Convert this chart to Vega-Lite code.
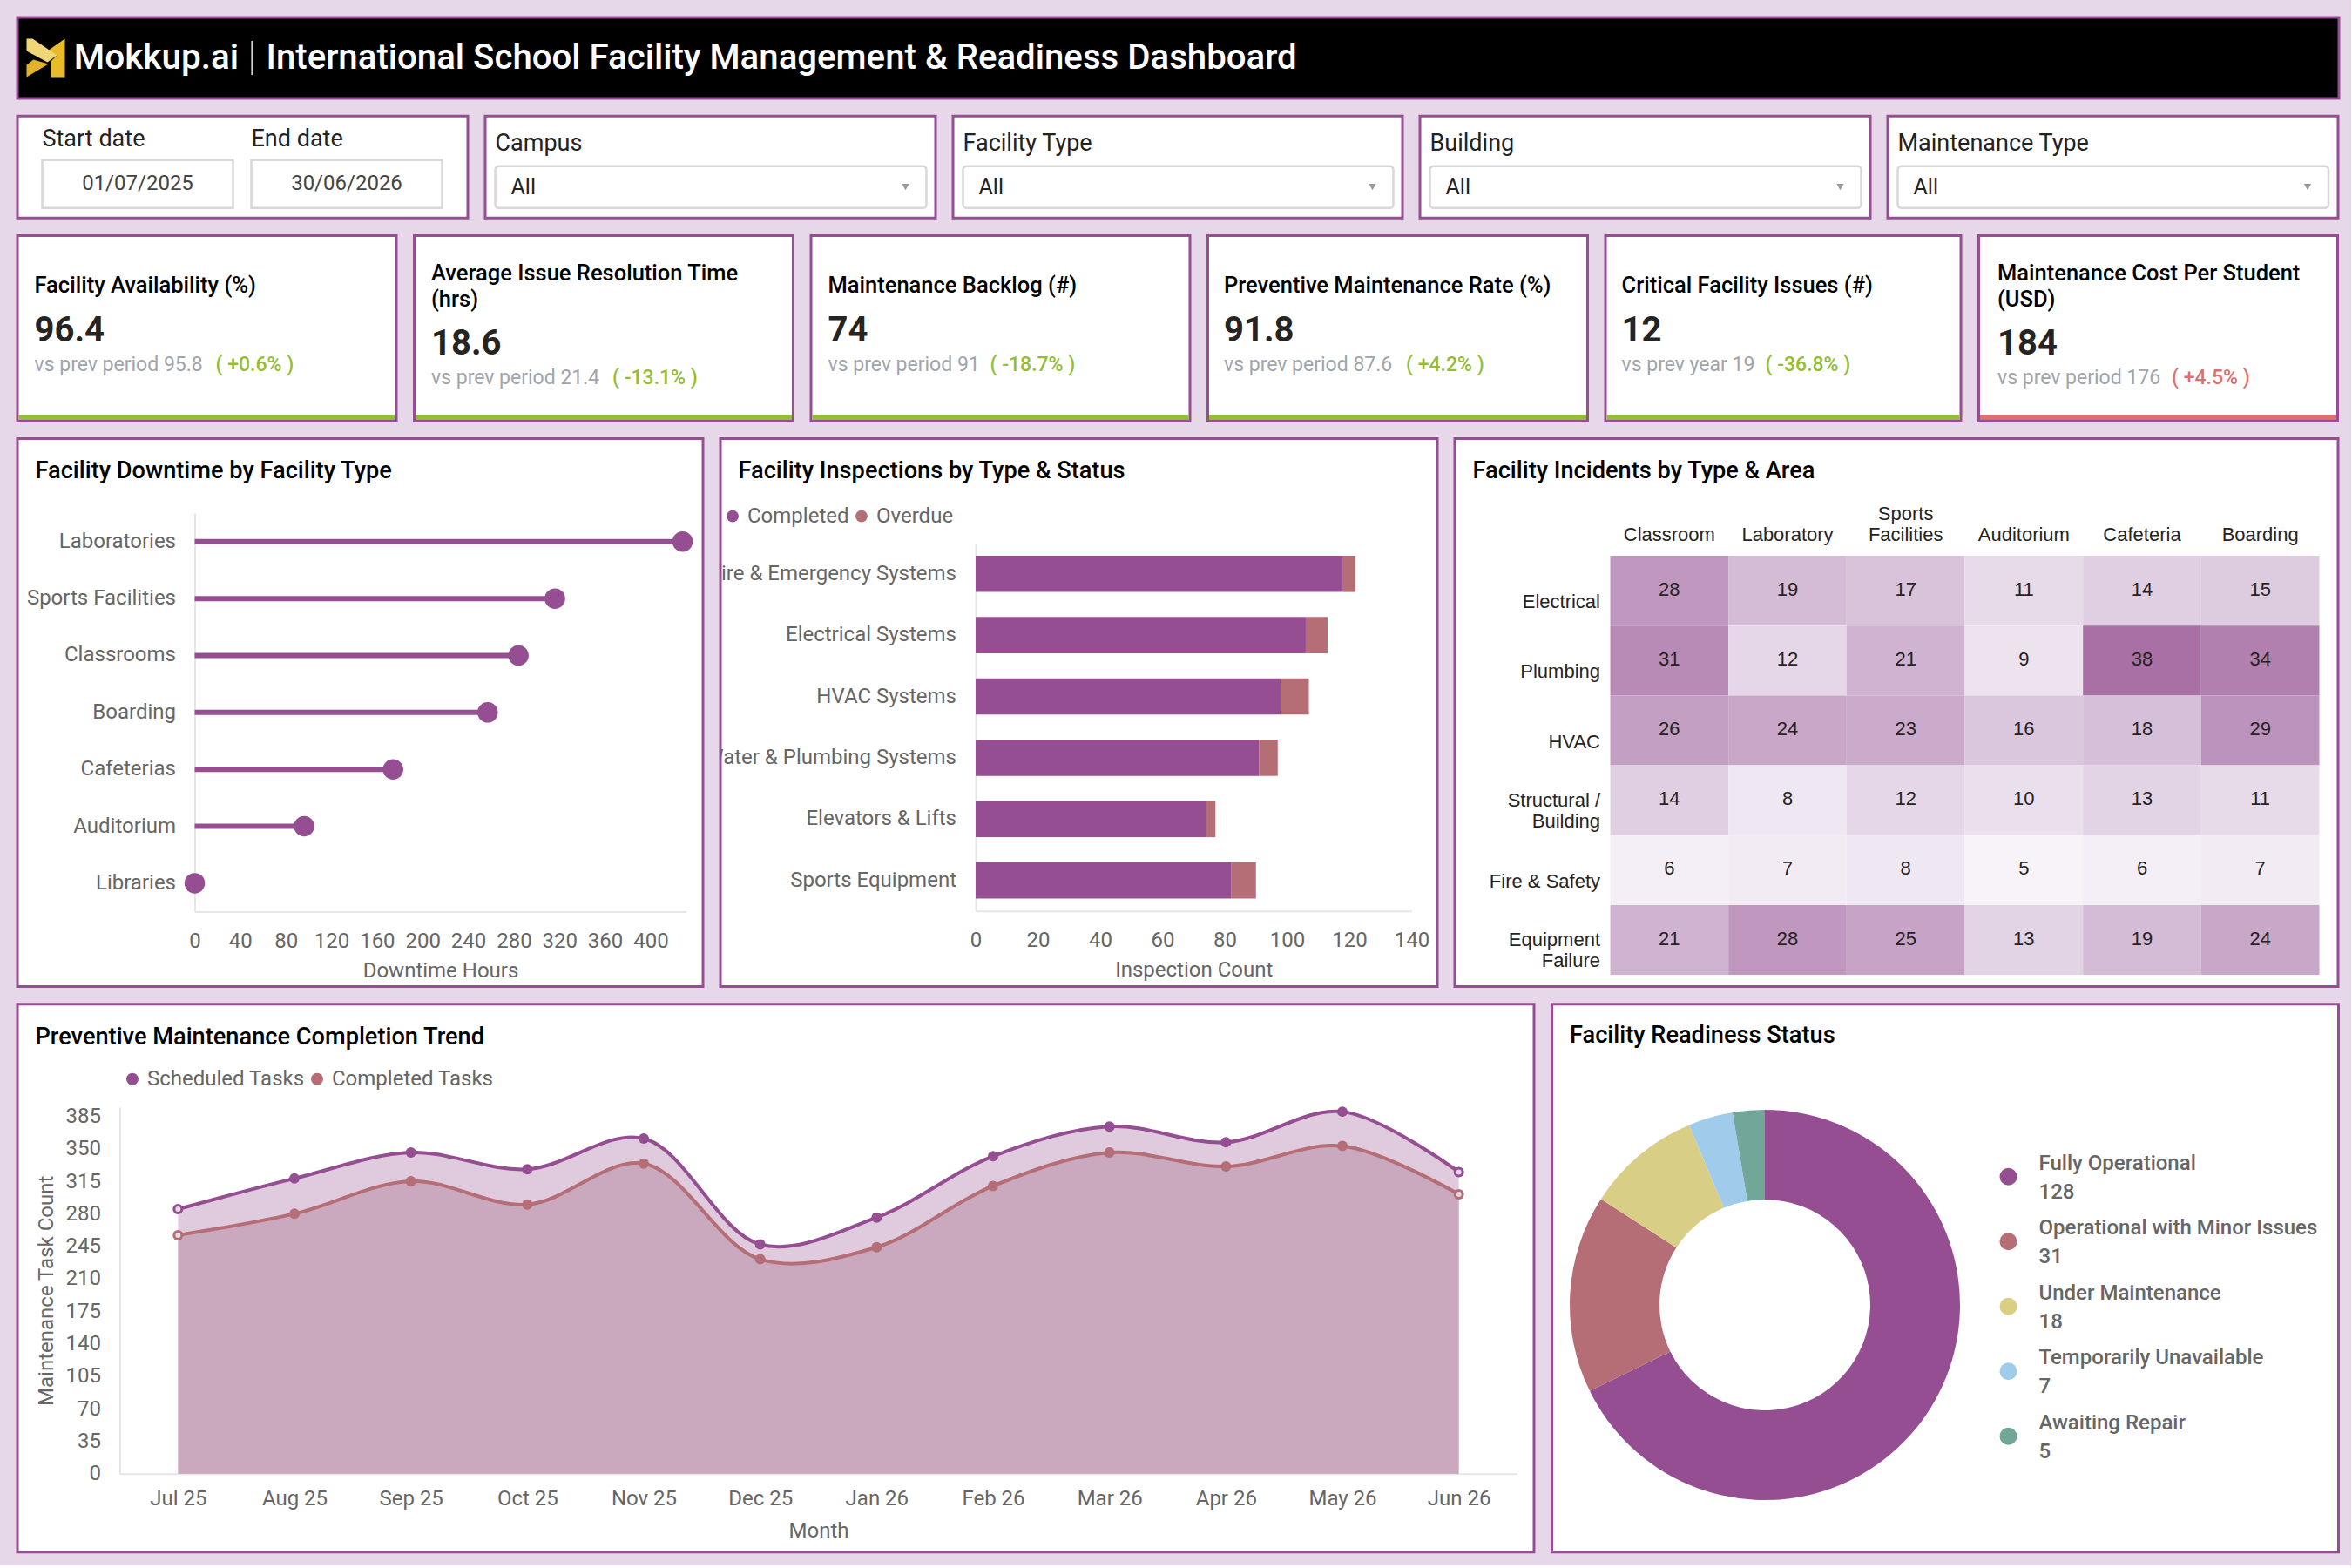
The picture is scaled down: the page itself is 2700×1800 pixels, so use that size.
{
"$schema":"https://vega.github.io/schema/vega-lite/v6.json",
"background":"#E6D8E8",
"padding":{"left":18,"top":18,"right":12,"bottom":13},
"spacing":16.2,
"resolve":{"scale":{"color":"independent","shape":"independent","stroke":"independent","fill":"independent"},"legend":{"color":"independent","stroke":"independent","fill":"independent"}},
"config":{
 "font":"Roboto",
 "concat":{"spacing":16.5},
 "view":{"stroke":"#944E91","strokeWidth":3,"fill":"#FFFFFF"},
 "title":{"font":"Roboto","fontSize":27.2,"fontWeight":500,"color":"#000000","anchor":"start","frame":"group","dx":20.5,"offset":-52},
 "axis":{"labelFont":"Roboto","labelFontSize":24,"labelColor":"#666666","titleFont":"Roboto","titleFontSize":24,"titleFontWeight":400,"titleColor":"#666666","grid":false,"ticks":false,"domainColor":"#E6E6E6","domainWidth":2,"labelAngle":0,"labelOverlap":false,"labelLimit":400,"labelPadding":22,"titlePadding":10,"labelFlush":false,"labelBound":false},
 "legend":{"labelFont":"Roboto","labelFontSize":24,"labelColor":"#666666","padding":0,"labelLimit":500}
},
"datasets":{
 "downtime":[{"type":"Laboratories","hours":428},{"type":"Sports Facilities","hours":316},{"type":"Classrooms","hours":284},{"type":"Boarding","hours":257},{"type":"Cafeterias","hours":174},{"type":"Auditorium","hours":96},{"type":"Libraries","hours":0}],
 "inspections":[
  {"system":"Fire & Emergency Systems","status":"Completed","count":118,"seq":1},{"system":"Fire & Emergency Systems","status":"Overdue","count":4,"seq":2},
  {"system":"Electrical Systems","status":"Completed","count":106,"seq":1},{"system":"Electrical Systems","status":"Overdue","count":7,"seq":2},
  {"system":"HVAC Systems","status":"Completed","count":98,"seq":1},{"system":"HVAC Systems","status":"Overdue","count":9,"seq":2},
  {"system":"Water & Plumbing Systems","status":"Completed","count":91,"seq":1},{"system":"Water & Plumbing Systems","status":"Overdue","count":6,"seq":2},
  {"system":"Elevators & Lifts","status":"Completed","count":74,"seq":1},{"system":"Elevators & Lifts","status":"Overdue","count":3,"seq":2},
  {"system":"Sports Equipment","status":"Completed","count":82,"seq":1},{"system":"Sports Equipment","status":"Overdue","count":8,"seq":2}],
 "incidents":[
  {"incident":"Electrical","area":"Classroom","n":28},{"incident":"Electrical","area":"Laboratory","n":19},{"incident":"Electrical","area":"Sports Facilities","n":17},{"incident":"Electrical","area":"Auditorium","n":11},{"incident":"Electrical","area":"Cafeteria","n":14},{"incident":"Electrical","area":"Boarding","n":15},
  {"incident":"Plumbing","area":"Classroom","n":31},{"incident":"Plumbing","area":"Laboratory","n":12},{"incident":"Plumbing","area":"Sports Facilities","n":21},{"incident":"Plumbing","area":"Auditorium","n":9},{"incident":"Plumbing","area":"Cafeteria","n":38},{"incident":"Plumbing","area":"Boarding","n":34},
  {"incident":"HVAC","area":"Classroom","n":26},{"incident":"HVAC","area":"Laboratory","n":24},{"incident":"HVAC","area":"Sports Facilities","n":23},{"incident":"HVAC","area":"Auditorium","n":16},{"incident":"HVAC","area":"Cafeteria","n":18},{"incident":"HVAC","area":"Boarding","n":29},
  {"incident":"Structural / Building","area":"Classroom","n":14},{"incident":"Structural / Building","area":"Laboratory","n":8},{"incident":"Structural / Building","area":"Sports Facilities","n":12},{"incident":"Structural / Building","area":"Auditorium","n":10},{"incident":"Structural / Building","area":"Cafeteria","n":13},{"incident":"Structural / Building","area":"Boarding","n":11},
  {"incident":"Fire & Safety","area":"Classroom","n":6},{"incident":"Fire & Safety","area":"Laboratory","n":7},{"incident":"Fire & Safety","area":"Sports Facilities","n":8},{"incident":"Fire & Safety","area":"Auditorium","n":5},{"incident":"Fire & Safety","area":"Cafeteria","n":6},{"incident":"Fire & Safety","area":"Boarding","n":7},
  {"incident":"Equipment Failure","area":"Classroom","n":21},{"incident":"Equipment Failure","area":"Laboratory","n":28},{"incident":"Equipment Failure","area":"Sports Facilities","n":25},{"incident":"Equipment Failure","area":"Auditorium","n":13},{"incident":"Equipment Failure","area":"Cafeteria","n":19},{"incident":"Equipment Failure","area":"Boarding","n":24}],
 "trend":[
  {"month":"Jul 25","series":"Scheduled Tasks","tasks":285},{"month":"Aug 25","series":"Scheduled Tasks","tasks":318},{"month":"Sep 25","series":"Scheduled Tasks","tasks":346},{"month":"Oct 25","series":"Scheduled Tasks","tasks":328},{"month":"Nov 25","series":"Scheduled Tasks","tasks":361},{"month":"Dec 25","series":"Scheduled Tasks","tasks":247},{"month":"Jan 26","series":"Scheduled Tasks","tasks":276},{"month":"Feb 26","series":"Scheduled Tasks","tasks":342},{"month":"Mar 26","series":"Scheduled Tasks","tasks":374},{"month":"Apr 26","series":"Scheduled Tasks","tasks":357},{"month":"May 26","series":"Scheduled Tasks","tasks":390},{"month":"Jun 26","series":"Scheduled Tasks","tasks":325},
  {"month":"Jul 25","series":"Completed Tasks","tasks":257},{"month":"Aug 25","series":"Completed Tasks","tasks":280},{"month":"Sep 25","series":"Completed Tasks","tasks":315},{"month":"Oct 25","series":"Completed Tasks","tasks":290},{"month":"Nov 25","series":"Completed Tasks","tasks":334},{"month":"Dec 25","series":"Completed Tasks","tasks":231},{"month":"Jan 26","series":"Completed Tasks","tasks":244},{"month":"Feb 26","series":"Completed Tasks","tasks":310},{"month":"Mar 26","series":"Completed Tasks","tasks":346},{"month":"Apr 26","series":"Completed Tasks","tasks":331},{"month":"May 26","series":"Completed Tasks","tasks":353},{"month":"Jun 26","series":"Completed Tasks","tasks":301}],
 "readiness":[
  {"status":"Fully Operational","count":128,"key":"Fully Operational|128","rank":1},
  {"status":"Operational with Minor Issues","count":31,"key":"Operational with Minor Issues|31","rank":2},
  {"status":"Under Maintenance","count":18,"key":"Under Maintenance|18","rank":3},
  {"status":"Temporarily Unavailable","count":7,"key":"Temporarily Unavailable|7","rank":4},
  {"status":"Awaiting Repair","count":5,"key":"Awaiting Repair|5","rank":5}]
},
"vconcat":[
 {"width":2665,"height":93,"view":{"fill":"#000000"},
  "data":{"values":[{"slot":"logo","piece":"right"},{"slot":"logo","piece":"lower"},{"slot":"logo","piece":"band"},{"slot":"brand","label":"Mokkup.ai"},{"slot":"divider"},{"slot":"title","label":"International School Facility Management & Readiness Dashboard"}]},
  "encoding":{"x":{"field":"slot","type":"nominal","scale":{"type":"point","padding":0,"domain":["logo","brand","divider","title"],"range":[32.5,285.5]},"axis":null}},
  "layer":[
   {"transform":[{"filter":"datum.slot=='logo'"}],"mark":{"type":"point","filled":true,"opacity":1,"size":1936},
    "encoding":{"shape":{"field":"piece","type":"nominal","legend":null,"scale":{"domain":["right","lower","band"],"range":["M1,-1L1,1L0.27,1L0.27,0.18L0.59,-0.14L0.09,-0.36Z","M-1,1L-1,0.36L-0.64,0.09L0.14,0.32Z","M-1,-1L-0.68,-1L0.59,-0.14L0.09,0.23L-1,-0.36Z"]}},
     "color":{"field":"piece","type":"nominal","legend":null,"scale":{"domain":["right","lower","band"],"range":["#E9BB2B","#E3B22A","#EFD777"]}}}},
   {"transform":[{"filter":"datum.slot=='brand'"}],"mark":{"type":"text","align":"left","dx":-52,"fontSize":40.5,"fontWeight":500,"color":"#FFFFFF"},"encoding":{"text":{"field":"label"}}},
   {"transform":[{"filter":"datum.slot=='divider'"}],"mark":{"type":"tick","orient":"vertical","size":39,"thickness":1.5,"opacity":1,"color":"#E6E6E6","xOffset":68}},
   {"transform":[{"filter":"datum.slot=='title'"}],"mark":{"type":"text","align":"left","fontSize":40.2,"fontWeight":500,"color":"#FFFFFF"},"encoding":{"text":{"field":"label"}}}
  ]},
 {"spacing":16,"resolve":{"scale":{"color":"independent"}},"hconcat":[
  {"width":517,"height":117,
   "data":{"values":[{"control":"Start date","row":"label","label":"Start date"},{"control":"End date","row":"label","label":"End date"},{"control":"Start date","row":"input","label":"01/07/2025"},{"control":"End date","row":"input","label":"30/06/2026"}]},
   "encoding":{"x":{"field":"control","type":"nominal","scale":{"type":"band","domain":["Start date","End date"],"range":[28.5,487.5],"paddingInner":0.0875,"paddingOuter":0},"axis":null},
    "y":{"field":"row","type":"nominal","scale":{"type":"band","domain":["label","input"],"range":[-4.5,105.5],"padding":0},"axis":null}},
   "layer":[
    {"transform":[{"filter":"datum.row=='input'"}],"mark":{"type":"rect","fill":"#FFFFFF","stroke":"#D8D8D8","strokeWidth":2.5}},
    {"transform":[{"filter":"datum.row=='input'"}],"mark":{"type":"text","fontSize":24,"color":"#444444"},"encoding":{"text":{"field":"label"}}},
    {"transform":[{"filter":"datum.row=='label'"}],"mark":{"type":"text","align":"left","dy":3.5,"fontSize":27,"color":"#222222"},"encoding":{"x":{"field":"control","type":"nominal","bandPosition":0},"text":{"field":"label"}}}
   ]},
  {"width":517,"height":117,
   "data":{"values":[{"slot":"control","row":"label","label":"Campus"},{"slot":"control","row":"input","label":"All"}]},
   "encoding":{"x":{"field":"slot","type":"nominal","bandPosition":0,"scale":{"type":"band","domain":["control"],"range":[11.5,506.5],"padding":0},"axis":null},
    "y":{"field":"row","type":"nominal","scale":{"type":"band","domain":["label","input"],"range":[7.5,105.5],"paddingInner":0.04,"paddingOuter":0},"axis":null}},
   "layer":[
    {"transform":[{"filter":"datum.row=='input'"}],"mark":{"type":"rect","fill":"#FFFFFF","stroke":"#D8D8D8","strokeWidth":2.5,"cornerRadius":4},"encoding":{"x":{"field":"slot","type":"nominal"}}},
    {"transform":[{"filter":"datum.row=='input'"}],"mark":{"type":"point","shape":"triangle-down","filled":true,"size":70,"color":"#999999","opacity":1,"xOffset":-24},"encoding":{"x":{"field":"slot","type":"nominal","bandPosition":1}}},
    {"transform":[{"filter":"datum.row=='input'"}],"mark":{"type":"text","align":"left","dx":18,"fontSize":25,"color":"#222222"},"encoding":{"text":{"field":"label"}}},
    {"transform":[{"filter":"datum.row=='label'"}],"mark":{"type":"text","align":"left","fontSize":27,"color":"#222222"},"encoding":{"text":{"field":"label"}}}
   ]},
  {"width":516,"height":117,
   "data":{"values":[{"slot":"control","row":"label","label":"Facility Type"},{"slot":"control","row":"input","label":"All"}]},
   "encoding":{"x":{"field":"slot","type":"nominal","bandPosition":0,"scale":{"type":"band","domain":["control"],"range":[11.5,505.5],"padding":0},"axis":null},
    "y":{"field":"row","type":"nominal","scale":{"type":"band","domain":["label","input"],"range":[7.5,105.5],"paddingInner":0.04,"paddingOuter":0},"axis":null}},
   "layer":[
    {"transform":[{"filter":"datum.row=='input'"}],"mark":{"type":"rect","fill":"#FFFFFF","stroke":"#D8D8D8","strokeWidth":2.5,"cornerRadius":4},"encoding":{"x":{"field":"slot","type":"nominal"}}},
    {"transform":[{"filter":"datum.row=='input'"}],"mark":{"type":"point","shape":"triangle-down","filled":true,"size":70,"color":"#999999","opacity":1,"xOffset":-24},"encoding":{"x":{"field":"slot","type":"nominal","bandPosition":1}}},
    {"transform":[{"filter":"datum.row=='input'"}],"mark":{"type":"text","align":"left","dx":18,"fontSize":25,"color":"#222222"},"encoding":{"text":{"field":"label"}}},
    {"transform":[{"filter":"datum.row=='label'"}],"mark":{"type":"text","align":"left","fontSize":27,"color":"#222222"},"encoding":{"text":{"field":"label"}}}
   ]},
  {"width":517,"height":117,
   "data":{"values":[{"slot":"control","row":"label","label":"Building"},{"slot":"control","row":"input","label":"All"}]},
   "encoding":{"x":{"field":"slot","type":"nominal","bandPosition":0,"scale":{"type":"band","domain":["control"],"range":[11.5,506.5],"padding":0},"axis":null},
    "y":{"field":"row","type":"nominal","scale":{"type":"band","domain":["label","input"],"range":[7.5,105.5],"paddingInner":0.04,"paddingOuter":0},"axis":null}},
   "layer":[
    {"transform":[{"filter":"datum.row=='input'"}],"mark":{"type":"rect","fill":"#FFFFFF","stroke":"#D8D8D8","strokeWidth":2.5,"cornerRadius":4},"encoding":{"x":{"field":"slot","type":"nominal"}}},
    {"transform":[{"filter":"datum.row=='input'"}],"mark":{"type":"point","shape":"triangle-down","filled":true,"size":70,"color":"#999999","opacity":1,"xOffset":-24},"encoding":{"x":{"field":"slot","type":"nominal","bandPosition":1}}},
    {"transform":[{"filter":"datum.row=='input'"}],"mark":{"type":"text","align":"left","dx":18,"fontSize":25,"color":"#222222"},"encoding":{"text":{"field":"label"}}},
    {"transform":[{"filter":"datum.row=='label'"}],"mark":{"type":"text","align":"left","fontSize":27,"color":"#222222"},"encoding":{"text":{"field":"label"}}}
   ]},
  {"width":517,"height":117,
   "data":{"values":[{"slot":"control","row":"label","label":"Maintenance Type"},{"slot":"control","row":"input","label":"All"}]},
   "encoding":{"x":{"field":"slot","type":"nominal","bandPosition":0,"scale":{"type":"band","domain":["control"],"range":[11.5,506],"padding":0},"axis":null},
    "y":{"field":"row","type":"nominal","scale":{"type":"band","domain":["label","input"],"range":[7.5,105.5],"paddingInner":0.04,"paddingOuter":0},"axis":null}},
   "layer":[
    {"transform":[{"filter":"datum.row=='input'"}],"mark":{"type":"rect","fill":"#FFFFFF","stroke":"#D8D8D8","strokeWidth":2.5,"cornerRadius":4},"encoding":{"x":{"field":"slot","type":"nominal"}}},
    {"transform":[{"filter":"datum.row=='input'"}],"mark":{"type":"point","shape":"triangle-down","filled":true,"size":70,"color":"#999999","opacity":1,"xOffset":-24},"encoding":{"x":{"field":"slot","type":"nominal","bandPosition":1}}},
    {"transform":[{"filter":"datum.row=='input'"}],"mark":{"type":"text","align":"left","dx":18,"fontSize":25,"color":"#222222"},"encoding":{"text":{"field":"label"}}},
    {"transform":[{"filter":"datum.row=='label'"}],"mark":{"type":"text","align":"left","fontSize":27,"color":"#222222"},"encoding":{"text":{"field":"label"}}}
   ]}
 ]},
 {"hconcat":[
  {"width":435,"height":213,
   "data":{"values":[{"line":"strip","part":"main"},{"line":"title","part":"main","label":"Facility Availability (%)"},{"line":"value","part":"main","label":"96.4"},{"line":"delta","part":"main","label":"vs prev period 95.8"},{"line":"delta","part":"change","label":"( +0.6% )"}]},
   "encoding":{"x":{"field":"part","type":"nominal","scale":{"type":"point","padding":0,"domain":["main","change"],"range":[19.5,227.5]},"axis":null},"y":{"field":"line","type":"nominal","scale":{"type":"point","padding":0,"domain":["title","value","delta","strip"],"range":[57.5,208.5]},"axis":null}},
   "layer":[
    {"transform":[{"filter":"datum.line=='strip'"}],"mark":{"type":"tick","orient":"horizontal","size":432,"thickness":6,"opacity":1,"color":"#92BD35"},"encoding":{"x":null}},
    {"transform":[{"filter":"datum.line=='title'"}],"mark":{"type":"text","align":"left","fontSize":25.5,"fontWeight":500,"lineHeight":30,"lineBreak":"\n","color":"#000000"},"encoding":{"text":{"field":"label"}}},
    {"transform":[{"filter":"datum.line=='value'"}],"mark":{"type":"text","align":"left","dy":1.6,"fontSize":40,"fontWeight":700,"color":"#252423"},"encoding":{"text":{"field":"label"}}},
    {"transform":[{"filter":"datum.line=='delta'&&datum.part=='main'"}],"mark":{"type":"text","align":"left","dy":-9.3,"fontSize":23,"color":"#A0A4AC"},"encoding":{"text":{"field":"label"}}},
    {"transform":[{"filter":"datum.line=='delta'&&datum.part=='change'"}],"mark":{"type":"text","align":"left","dy":-9.3,"fontSize":23,"fontWeight":500,"color":"#92BD35"},"encoding":{"text":{"field":"label"}}}
   ]},
  {"width":435,"height":213,
   "data":{"values":[{"line":"strip","part":"main"},{"line":"title","part":"main","label":"Average Issue Resolution Time\n(hrs)"},{"line":"value","part":"main","label":"18.6"},{"line":"delta","part":"main","label":"vs prev period 21.4"},{"line":"delta","part":"change","label":"( -13.1% )"}]},
   "encoding":{"x":{"field":"part","type":"nominal","scale":{"type":"point","padding":0,"domain":["main","change"],"range":[19.5,227.5]},"axis":null},"y":{"field":"line","type":"nominal","scale":{"type":"point","padding":0,"domain":["title","value","delta","strip"],"range":[57.5,208.5]},"axis":null}},
   "layer":[
    {"transform":[{"filter":"datum.line=='strip'"}],"mark":{"type":"tick","orient":"horizontal","size":432,"thickness":6,"opacity":1,"color":"#92BD35"},"encoding":{"x":null}},
    {"transform":[{"filter":"datum.line=='title'"}],"mark":{"type":"text","align":"left","dy":-14,"fontSize":25.5,"fontWeight":500,"lineHeight":30,"lineBreak":"\n","color":"#000000"},"encoding":{"text":{"field":"label"}}},
    {"transform":[{"filter":"datum.line=='value'"}],"mark":{"type":"text","align":"left","dy":16.3,"fontSize":40,"fontWeight":700,"color":"#252423"},"encoding":{"text":{"field":"label"}}},
    {"transform":[{"filter":"datum.line=='delta'&&datum.part=='main'"}],"mark":{"type":"text","align":"left","dy":5.4,"fontSize":23,"color":"#A0A4AC"},"encoding":{"text":{"field":"label"}}},
    {"transform":[{"filter":"datum.line=='delta'&&datum.part=='change'"}],"mark":{"type":"text","align":"left","dy":5.4,"fontSize":23,"fontWeight":500,"color":"#92BD35"},"encoding":{"text":{"field":"label"}}}
   ]},
  {"width":435,"height":213,
   "data":{"values":[{"line":"strip","part":"main"},{"line":"title","part":"main","label":"Maintenance Backlog (#)"},{"line":"value","part":"main","label":"74"},{"line":"delta","part":"main","label":"vs prev period 91"},{"line":"delta","part":"change","label":"( -18.7% )"}]},
   "encoding":{"x":{"field":"part","type":"nominal","scale":{"type":"point","padding":0,"domain":["main","change"],"range":[19.5,205.5]},"axis":null},"y":{"field":"line","type":"nominal","scale":{"type":"point","padding":0,"domain":["title","value","delta","strip"],"range":[57.5,208.5]},"axis":null}},
   "layer":[
    {"transform":[{"filter":"datum.line=='strip'"}],"mark":{"type":"tick","orient":"horizontal","size":432,"thickness":6,"opacity":1,"color":"#92BD35"},"encoding":{"x":null}},
    {"transform":[{"filter":"datum.line=='title'"}],"mark":{"type":"text","align":"left","fontSize":25.5,"fontWeight":500,"lineHeight":30,"lineBreak":"\n","color":"#000000"},"encoding":{"text":{"field":"label"}}},
    {"transform":[{"filter":"datum.line=='value'"}],"mark":{"type":"text","align":"left","dy":1.6,"fontSize":40,"fontWeight":700,"color":"#252423"},"encoding":{"text":{"field":"label"}}},
    {"transform":[{"filter":"datum.line=='delta'&&datum.part=='main'"}],"mark":{"type":"text","align":"left","dy":-9.3,"fontSize":23,"color":"#A0A4AC"},"encoding":{"text":{"field":"label"}}},
    {"transform":[{"filter":"datum.line=='delta'&&datum.part=='change'"}],"mark":{"type":"text","align":"left","dy":-9.3,"fontSize":23,"fontWeight":500,"color":"#92BD35"},"encoding":{"text":{"field":"label"}}}
   ]},
  {"width":436,"height":213,
   "data":{"values":[{"line":"strip","part":"main"},{"line":"title","part":"main","label":"Preventive Maintenance Rate (%)"},{"line":"value","part":"main","label":"91.8"},{"line":"delta","part":"main","label":"vs prev period 87.6"},{"line":"delta","part":"change","label":"( +4.2% )"}]},
   "encoding":{"x":{"field":"part","type":"nominal","scale":{"type":"point","padding":0,"domain":["main","change"],"range":[18.5,227.5]},"axis":null},"y":{"field":"line","type":"nominal","scale":{"type":"point","padding":0,"domain":["title","value","delta","strip"],"range":[57.5,208.5]},"axis":null}},
   "layer":[
    {"transform":[{"filter":"datum.line=='strip'"}],"mark":{"type":"tick","orient":"horizontal","size":433,"thickness":6,"opacity":1,"color":"#92BD35"},"encoding":{"x":null}},
    {"transform":[{"filter":"datum.line=='title'"}],"mark":{"type":"text","align":"left","fontSize":25.5,"fontWeight":500,"lineHeight":30,"lineBreak":"\n","color":"#000000"},"encoding":{"text":{"field":"label"}}},
    {"transform":[{"filter":"datum.line=='value'"}],"mark":{"type":"text","align":"left","dy":1.6,"fontSize":40,"fontWeight":700,"color":"#252423"},"encoding":{"text":{"field":"label"}}},
    {"transform":[{"filter":"datum.line=='delta'&&datum.part=='main'"}],"mark":{"type":"text","align":"left","dy":-9.3,"fontSize":23,"color":"#A0A4AC"},"encoding":{"text":{"field":"label"}}},
    {"transform":[{"filter":"datum.line=='delta'&&datum.part=='change'"}],"mark":{"type":"text","align":"left","dy":-9.3,"fontSize":23,"fontWeight":500,"color":"#92BD35"},"encoding":{"text":{"field":"label"}}}
   ]},
  {"width":408,"height":213,
   "data":{"values":[{"line":"strip","part":"main"},{"line":"title","part":"main","label":"Critical Facility Issues (#)"},{"line":"value","part":"main","label":"12"},{"line":"delta","part":"main","label":"vs prev year 19"},{"line":"delta","part":"change","label":"( -36.8% )"}]},
   "encoding":{"x":{"field":"part","type":"nominal","scale":{"type":"point","padding":0,"domain":["main","change"],"range":[18.5,183.5]},"axis":null},"y":{"field":"line","type":"nominal","scale":{"type":"point","padding":0,"domain":["title","value","delta","strip"],"range":[57.5,208.5]},"axis":null}},
   "layer":[
    {"transform":[{"filter":"datum.line=='strip'"}],"mark":{"type":"tick","orient":"horizontal","size":405,"thickness":6,"opacity":1,"color":"#92BD35"},"encoding":{"x":null}},
    {"transform":[{"filter":"datum.line=='title'"}],"mark":{"type":"text","align":"left","fontSize":25.5,"fontWeight":500,"lineHeight":30,"lineBreak":"\n","color":"#000000"},"encoding":{"text":{"field":"label"}}},
    {"transform":[{"filter":"datum.line=='value'"}],"mark":{"type":"text","align":"left","dy":1.6,"fontSize":40,"fontWeight":700,"color":"#252423"},"encoding":{"text":{"field":"label"}}},
    {"transform":[{"filter":"datum.line=='delta'&&datum.part=='main'"}],"mark":{"type":"text","align":"left","dy":-9.3,"fontSize":23,"color":"#A0A4AC"},"encoding":{"text":{"field":"label"}}},
    {"transform":[{"filter":"datum.line=='delta'&&datum.part=='change'"}],"mark":{"type":"text","align":"left","dy":-9.3,"fontSize":23,"fontWeight":500,"color":"#92BD35"},"encoding":{"text":{"field":"label"}}}
   ]},
  {"width":412,"height":213,
   "data":{"values":[{"line":"strip","part":"main"},{"line":"title","part":"main","label":"Maintenance Cost Per Student\n(USD)"},{"line":"value","part":"main","label":"184"},{"line":"delta","part":"main","label":"vs prev period 176"},{"line":"delta","part":"change","label":"( +4.5% )"}]},
   "encoding":{"x":{"field":"part","type":"nominal","scale":{"type":"point","padding":0,"domain":["main","change"],"range":[21.5,221.5]},"axis":null},"y":{"field":"line","type":"nominal","scale":{"type":"point","padding":0,"domain":["title","value","delta","strip"],"range":[57.5,208.5]},"axis":null}},
   "layer":[
    {"transform":[{"filter":"datum.line=='strip'"}],"mark":{"type":"tick","orient":"horizontal","size":409,"thickness":6,"opacity":1,"color":"#DE6F6F"},"encoding":{"x":null}},
    {"transform":[{"filter":"datum.line=='title'"}],"mark":{"type":"text","align":"left","dy":-14,"fontSize":25.5,"fontWeight":500,"lineHeight":30,"lineBreak":"\n","color":"#000000"},"encoding":{"text":{"field":"label"}}},
    {"transform":[{"filter":"datum.line=='value'"}],"mark":{"type":"text","align":"left","dy":16.3,"fontSize":40,"fontWeight":700,"color":"#252423"},"encoding":{"text":{"field":"label"}}},
    {"transform":[{"filter":"datum.line=='delta'&&datum.part=='main'"}],"mark":{"type":"text","align":"left","dy":5.4,"fontSize":23,"color":"#A0A4AC"},"encoding":{"text":{"field":"label"}}},
    {"transform":[{"filter":"datum.line=='delta'&&datum.part=='change'"}],"mark":{"type":"text","align":"left","dy":5.4,"fontSize":23,"fontWeight":500,"color":"#DE6F6F"},"encoding":{"text":{"field":"label"}}}
   ]}
 ]},
 {"spacing":16,"resolve":{"scale":{"color":"independent"},"legend":{"color":"independent"}},"hconcat":[
  {"width":787,"height":629,"title":"Facility Downtime by Facility Type",
   "data":{"name":"downtime"},
   "encoding":{
    "y":{"field":"type","type":"nominal","sort":null,"title":null,"scale":{"type":"band","domain":["Laboratories","Sports Facilities","Classrooms","Boarding","Cafeterias","Auditorium","Libraries"],"range":[85.5,543],"padding":0},"axis":{"offset":-203.5}},
    "x":{"field":"hours","type":"quantitative","title":"Downtime Hours","scale":{"domain":[0,431],"range":[203.5,767.5],"nice":false},"axis":{"offset":-86,"values":[0,40,80,120,160,200,240,280,320,360,400]}}},
   "layer":[
    {"mark":{"type":"bar","size":6,"color":"#944E91"}},
    {"mark":{"type":"point","filled":true,"opacity":1,"size":552,"color":"#944E91"}}
   ]},
  {"width":823,"height":629,"title":"Facility Inspections by Type & Status",
   "data":{"name":"inspections"},
   "encoding":{
    "y":{"field":"system","type":"nominal","sort":null,"title":null,"scale":{"type":"band","domain":["Fire & Emergency Systems","Electrical Systems","HVAC Systems","Water & Plumbing Systems","Elevators & Lifts","Sports Equipment"],"range":[120,542.2],"paddingInner":0.408,"paddingOuter":0.204},"axis":{"offset":-293,"labels":false}}},
   "layer":[
    {"mark":{"type":"bar"},
     "encoding":{"x":{"field":"count","type":"quantitative","stack":"zero","title":"Inspection Count","scale":{"domain":[0,140],"range":[293,793.5],"nice":false},"axis":{"offset":-86.8,"values":[0,20,40,60,80,100,120,140]}},
      "order":{"field":"seq"},
      "color":{"field":"status","type":"nominal","title":null,"scale":{"domain":["Completed","Overdue"],"range":["#944E91","#B56D76"]},"legend":{"orient":"none","legendX":2,"legendY":77,"direction":"horizontal","symbolType":"circle","symbolSize":190,"labelOffset":5,"columnPadding":2}}}},
    {"transform":[{"filter":"datum.status=='Completed'"}],"mark":{"type":"text","align":"right","dx":-22,"fontSize":24,"color":"#666666","clip":true},
     "encoding":{"x":{"datum":0},"text":{"field":"system"}}}
   ]},
  {"width":1014,"height":629,"title":"Facility Incidents by Type & Area",
   "data":{"name":"incidents"},
   "encoding":{
    "x":{"field":"area","type":"nominal","sort":null,"title":null,"scale":{"type":"band","domain":["Classroom","Laboratory","Sports Facilities","Auditorium","Cafeteria","Boarding"],"range":[178.5,992.5],"padding":0},
     "axis":{"orient":"top","offset":-134.5,"domain":false,"labelFont":"Liberation Sans","labelFontSize":22,"labelColor":"#252423","labelPadding":37,"labelLineHeight":24,"labelExpr":"datum.label=='Sports Facilities'?['Sports','Facilities']:['',datum.label]"}},
    "y":{"field":"incident","type":"nominal","sort":null,"title":null,"scale":{"type":"band","domain":["Electrical","Plumbing","HVAC","Structural / Building","Fire & Safety","Equipment Failure"],"range":[134.5,615.5],"padding":0},
     "axis":{"offset":-178.5,"domain":false,"labelFont":"Liberation Sans","labelFontSize":22,"labelColor":"#252423","labelPadding":12,"labelOffset":{"condition":{"test":"datum.label=='Structural / Building'||datum.label=='Equipment Failure'","value":0},"value":13},"labelLineHeight":24,"labelExpr":"datum.label=='Structural / Building'?['Structural /','Building']:datum.label=='Equipment Failure'?['Equipment','Failure']:datum.label"}}},
   "layer":[
    {"mark":{"type":"rect"},"encoding":{"color":{"field":"n","type":"quantitative","legend":null,"scale":{"domain":[5,38],"range":["#F7F3F8","#A870A4"]}}}},
    {"mark":{"type":"text","font":"Liberation Sans","fontSize":22,"dy":-1.5,"color":"#252423"},"encoding":{"text":{"field":"n","type":"quantitative"}}}
   ]}
 ]},
 {"resolve":{"scale":{"color":"independent","stroke":"independent","fill":"independent"},"legend":{"color":"independent","stroke":"independent","fill":"independent"}},"hconcat":[
  {"width":1741,"height":629,"title":"Preventive Maintenance Completion Trend",
   "data":{"name":"trend"},
   "encoding":{
    "x":{"field":"month","type":"nominal","sort":null,"title":"Month","scale":{"type":"point","padding":0.5,"domain":["Jul 25","Aug 25","Sep 25","Oct 25","Nov 25","Dec 25","Jan 26","Feb 26","Mar 26","Apr 26","May 26","Jun 26"],"range":[117.5,1721.5]},"axis":{"offset":-90,"labelPadding":17,"titlePadding":13}},
    "y":{"field":"tasks","type":"quantitative","stack":null,"title":"Maintenance Task Count","scale":{"domain":[0,395],"range":[539,118],"nice":false},"axis":{"offset":-117.5,"values":[0,35,70,105,140,175,210,245,280,315,350,385]}}},
   "layer":[
    {"transform":[{"filter":"datum.series=='Scheduled Tasks'"}],"mark":{"type":"area","interpolate":"catmull-rom","opacity":0.3,"color":"#944E91"}},
    {"transform":[{"filter":"datum.series=='Completed Tasks'"}],"mark":{"type":"area","interpolate":"catmull-rom","opacity":0.3,"color":"#9C5C73"}},
    {"mark":{"type":"line","interpolate":"catmull-rom","strokeWidth":4},"encoding":{"stroke":{"field":"series","type":"nominal","title":null,"scale":{"domain":["Scheduled Tasks","Completed Tasks"],"range":["#944E91","#B56D76"]},"legend":{"orient":"none","legendX":120,"legendY":74,"direction":"horizontal","symbolType":"circle","symbolSize":120,"symbolStrokeWidth":3,"symbolFillColor":"#E0CBDF","labelOffset":5,"columnPadding":2}}}},
    {"mark":{"type":"point","filled":true,"opacity":1,"size":144},"encoding":{"fill":{"field":"series","type":"nominal","legend":null,"scale":{"domain":["Scheduled Tasks","Completed Tasks"],"range":["#944E91","#B56D76"]}}}},
    {"transform":[{"filter":"datum.month=='Jul 25'||datum.month=='Jun 26'"}],"mark":{"type":"point","filled":true,"opacity":1,"size":36,"color":"#E6D5E5"}}
   ]},
  {"width":903,"height":629,"title":{"text":"Facility Readiness Status","offset":-50},
   "data":{"name":"readiness"},
   "mark":{"type":"arc","outerRadius":224,"innerRadius":121},
   "encoding":{
    "theta":{"field":"count","type":"quantitative","stack":"zero"},
    "order":{"field":"rank"},
    "x":{"datum":"ring","type":"nominal","scale":{"type":"point","domain":["ring"],"range":[244.5,244.5]},"axis":null},
    "y":{"datum":"ring","type":"nominal","scale":{"type":"point","domain":["ring"],"range":[345.2,345.2]},"axis":null},
    "color":{"field":"key","type":"nominal","title":null,"scale":{"domain":["Fully Operational|128","Operational with Minor Issues|31","Under Maintenance|18","Temporarily Unavailable|7","Awaiting Repair|5"],"range":["#944E91","#B56D76","#D9CE86","#A1CBEB","#71A698"]},
     "legend":{"orient":"none","legendX":512,"legendY":186,"symbolType":"circle","symbolSize":400,"labelOffset":23,"rowPadding":17.5,"labelFontWeight":500,"labelExpr":"split(datum.label,'|')","encoding":{"labels":{"lineHeight":{"value":33},"dy":{"value":-15}}}}}
   }}
 ]}
]}
